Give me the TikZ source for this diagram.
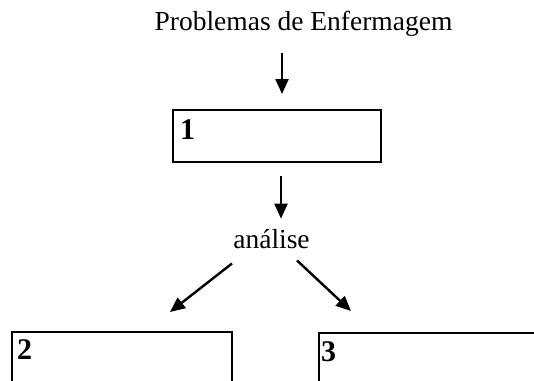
\documentclass[tikz,border=0pt]{standalone}
\usepackage{fontspec}
\setmainfont{Liberation Serif}
\usetikzlibrary{arrows.meta}
\begin{document}
\begin{tikzpicture}[x=1pt,y=-1pt,
  lbl/.style={inner sep=0pt,font=\fontsize{27.5}{30}\selectfont},
  num/.style={inner sep=0pt,anchor=north west,font=\fontsize{30}{32}\selectfont\bfseries},
  box/.style={draw,line width=2pt,inner sep=0pt},
  arr/.style={line width=2.4pt,-{Triangle[length=15pt,width=13pt]}}]
\clip (0,0) rectangle (534,380);
\fill[white] (0,0) rectangle (534,380);
\node[lbl,anchor=base] (t) at (303.5,30) {Problemas de Enfermagem};
\node[box,minimum width=208pt,minimum height=52pt] (b1) at (277,136) {};
\node[num] (n1) at ([shift={(8,10)}]b1.north west) {1};
\node[lbl,anchor=base] (an) at (271.5,248) {análise};
\node[box,minimum width=220pt,minimum height=88pt] (b2) at (122,376) {};
\node[num] (n2) at ([shift={(6,8)}]b2.north west) {2};
\node[box,minimum width=241pt,minimum height=87pt] (b3) at (439.5,376.5) {};
\node[num] (n3) at ([shift={(3,9)}]b3.north west) {3};
\coordinate (x1) at (282,0);
\coordinate (x2) at (281,0);
\draw[arr] ([shift={(0,17)}]x1 |- t.south) -- ([shift={(0,-15)}]x1 |- b1.north);
\draw[arr] ([shift={(0,13)}]x2 |- b1.south) -- ([shift={(0,-10)}]x2 |- an.north);
\draw[arr] ([shift={(-39.5,15)}]an.south) -- ([shift={(48,-19)}]b2.north);
\draw[arr] ([shift={(25.5,12)}]an.south) -- ([shift={(33,-21)}]b3.north west);
\end{tikzpicture}
\end{document}
